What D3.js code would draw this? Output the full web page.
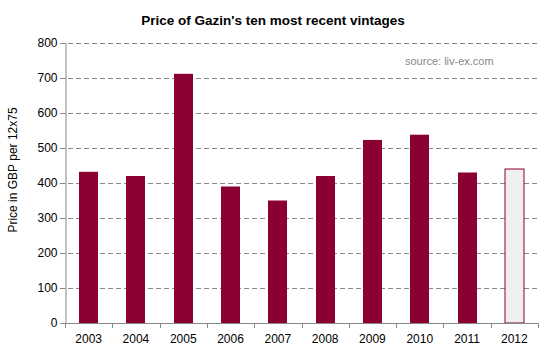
<!DOCTYPE html>
<html>
<head>
<meta charset="utf-8">
<script src="https://cdn.jsdelivr.net/npm/d3@7"></script>
<style>
  body { margin: 0; background: #fff; }
  text { font-family: Arial, "Liberation Sans", sans-serif; }
</style>
</head>
<body>
<div id="chart"></div>
<script>
// vintages and prices (GBP per 12x75)
var years = ["2003", "2004", "2005", "2006", "2007", "2008", "2009", "2010", "2011", "2012"];
var prices = [432, 420, 712, 390, 350, 420, 523, 538, 430, 440];
var highlight = ["2012"];   // latest vintage drawn hollow
var yTicks = [0, 100, 200, 300, 400, 500, 600, 700, 800];

var W = 547, H = 354;
var margin = { top: 43, right: 9, bottom: 31, left: 65 };
var width = W - margin.left - margin.right;
var height = H - margin.top - margin.bottom;

var data = years.map(function(y, i) { return { year: y, value: prices[i] }; });

var svg = d3.select("#chart").append("svg")
    .attr("width", W)
    .attr("height", H);

var g = svg.append("g")
    .attr("transform", "translate(" + margin.left + "," + margin.top + ")");

var x = d3.scaleBand()
    .domain(years)
    .range([0, width])
    .paddingInner(0.6)
    .paddingOuter(0.3);

var y = d3.scaleLinear()
    .domain([0, 800])
    .range([height, 0]);

// gridlines
g.selectAll(".grid")
    .data(yTicks.filter(function(d) { return d > 0; }))
    .enter().append("line")
    .attr("class", "grid")
    .attr("x1", -5)
    .attr("x2", width)
    .attr("y1", function(d) { return Math.round(y(d)) + 0.5; })
    .attr("y2", function(d) { return Math.round(y(d)) + 0.5; })
    .attr("stroke", "#888")
    .attr("stroke-width", 1)
    .attr("stroke-dasharray", "5,3");

// bars
g.selectAll(".bar")
    .data(data)
    .enter().append("rect")
    .attr("class", "bar")
    .attr("x", function(d) { return Math.round(x(d.year)); })
    .attr("width", Math.round(x.bandwidth()))
    .attr("y", function(d) { return y(d.value); })
    .attr("height", function(d) { return height - y(d.value); })
    .attr("fill", function(d) { return highlight.indexOf(d.year) >= 0 ? "#f0f0f0" : "#8b0033"; })
    .attr("stroke", function(d) { return highlight.indexOf(d.year) >= 0 ? "#8b0033" : "none"; })
    .attr("stroke-width", 1);

// y axis
var yAxis = d3.axisLeft(y)
    .tickValues(yTicks)
    .tickSize(5)
    .tickPadding(3);

var yG = g.append("g")
    .attr("class", "y-axis")
    .attr("transform", "translate(0.5,0)")
    .call(yAxis);
yG.select(".domain").attr("stroke", "#888");
yG.selectAll(".tick line").attr("stroke", "#888");
yG.selectAll(".tick text")
    .attr("font-size", 12)
    .attr("fill", "#000")
    .attr("font-family", "Arial, 'Liberation Sans', sans-serif");

// x axis, ticks on category boundaries
g.append("line")
    .attr("x1", 0).attr("x2", width)
    .attr("y1", height + 0.5).attr("y2", height + 0.5)
    .attr("stroke", "#888");

var step = width / years.length;
g.selectAll(".xtick")
    .data(d3.range(years.length + 1))
    .enter().append("line")
    .attr("class", "xtick")
    .attr("x1", function(i) { return Math.round(i * step) + 0.5; })
    .attr("x2", function(i) { return Math.round(i * step) + 0.5; })
    .attr("y1", height)
    .attr("y2", height + 5)
    .attr("stroke", "#888");

g.selectAll(".xlabel")
    .data(years)
    .enter().append("text")
    .attr("class", "xlabel")
    .attr("x", function(d) { return x(d) + x.bandwidth() / 2; })
    .attr("y", height + 20)
    .attr("text-anchor", "middle")
    .attr("font-size", 12)
    .attr("fill", "#000")
    .text(function(d) { return d; });

// title
svg.append("text")
    .attr("x", 273)
    .attr("y", 25)
    .attr("text-anchor", "middle")
    .attr("font-size", 13.5)
    .attr("font-weight", "bold")
    .attr("fill", "#000")
    .text("Price of Gazin's ten most recent vintages");

// y-axis label
svg.append("text")
    .attr("transform", "translate(17,170) rotate(-90)")
    .attr("text-anchor", "middle")
    .attr("font-size", 12)
    .attr("fill", "#000")
    .text("Price in GBP per 12x75");

// source note
svg.append("text")
    .attr("x", 405)
    .attr("y", 65)
    .attr("font-size", 11)
    .attr("fill", "#888")
    .text("source: liv-ex.com");
</script>
</body>
</html>
